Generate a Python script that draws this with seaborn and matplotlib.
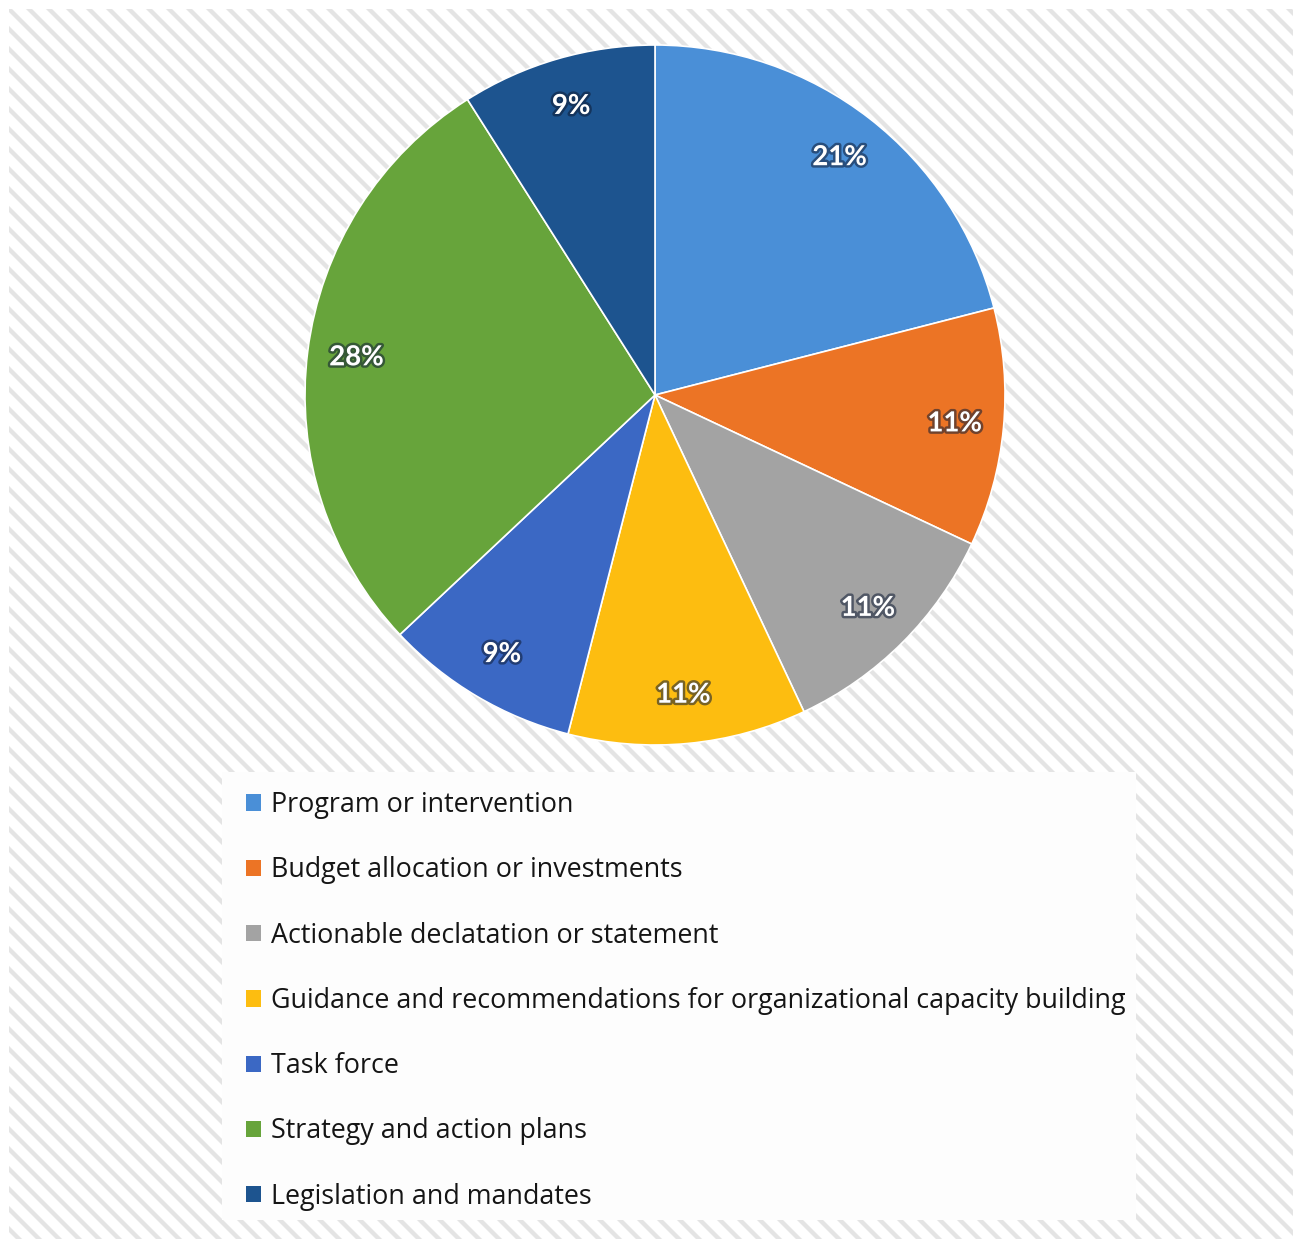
import matplotlib
matplotlib.use("Agg")
import matplotlib.pyplot as plt
import matplotlib.patheffects as pe
from matplotlib.patches import Rectangle
import seaborn as sns

# Policy output categories and their shares (%)
categories = [
    "Program or intervention",
    "Budget allocation or investments",
    "Actionable declatation or statement",
    "Guidance and recommendations for organizational capacity building",
    "Task force",
    "Strategy and action plans",
    "Legislation and mandates",
]
shares = [21, 11, 11, 11, 9, 28, 9]
colors_hex = ["#4a8fd7", "#ec7425", "#a3a3a3", "#fdbd10", "#3b68c4", "#67a43b", "#1d548f"]

sns.set_theme(style="white")
plt.rcParams["font.family"] = ["Open Sans", "DejaVu Sans"]
plt.rcParams["hatch.linewidth"] = 2.6

W, H, DPI = 1293, 1239, 120
fig = plt.figure(figsize=(W / DPI, H / DPI), dpi=DPI)
fig.patch.set_facecolor("white")

# striped backdrop
fig.patches.append(Rectangle((9 / W, 0), 1 - 9 / W, 1 - 9 / H, transform=fig.transFigure,
                             facecolor="white", edgecolor="#e4e4e4", linewidth=0,
                             hatch="\\\\", zorder=-3))
# legend panel
fig.patches.append(Rectangle((222 / W, 1 - 1220 / H), (1136 - 222) / W, (1220 - 772) / H,
                             transform=fig.transFigure, facecolor="#fdfdfd",
                             edgecolor="none", zorder=-2))

cx, cy, r = 655, 395, 350
ax = fig.add_axes([(cx - r) / W, 1 - (cy + r) / H, 2 * r / W, 2 * r / H])
ax.set_zorder(2)
palette = sns.color_palette(colors_hex)
wedges, texts, autotexts = ax.pie(
    shares, colors=palette, startangle=90, counterclock=False,
    autopct=lambda p: f"{p:.0f}%", pctdistance=0.86,
    wedgeprops=dict(edgecolor="white", linewidth=1.0),
    textprops=dict(color="white", fontsize=16.5, fontweight="bold", family=["Lato", "DejaVu Sans"]),
)
for t in autotexts:
    t.set_path_effects([pe.withStroke(linewidth=3, foreground=(0.05, 0.1, 0.2, 0.55))])
ax.set_xlim(-1.0, 1.0)
ax.set_ylim(-1.0, 1.0)
ax.set_aspect("equal")
ax.axis("off")

leg = fig.legend(wedges, categories, loc="upper left",
                 bbox_to_anchor=(246 / W, 1 - 791 / H), frameon=False,
                 fontsize=16.1, handlelength=0.56, handleheight=0.56,
                 handletextpad=0.37, labelspacing=1.39, borderpad=0,
                 borderaxespad=0)
leg.set_zorder(5)
for h in leg.legend_handles:
    h.set_edgecolor("none")
for t in leg.get_texts():
    t.set_color("#151515")

fig.savefig("out.png", dpi=DPI)
